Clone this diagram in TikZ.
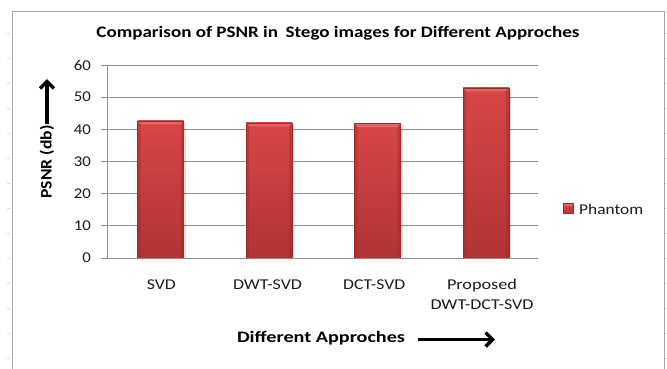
\documentclass[tikz,border=0pt]{standalone}
\usepackage{fontspec}
\setmainfont{Carlito}
\usetikzlibrary{arrows.meta}
\definecolor{gridc}{HTML}{8E8E8E}
\definecolor{framec}{HTML}{A8A8A8}
\definecolor{faintc}{HTML}{DDDDDD}
\definecolor{barTop}{HTML}{D94646}
\definecolor{barBot}{HTML}{B03434}
\definecolor{barEdge}{HTML}{A02A2A}
\definecolor{barL}{HTML}{E46464}
\definecolor{txt}{HTML}{1C1C1C}
\newcommand\fitw[2]{\setbox0=\hbox{#2}\pgfmathsetmacro\fitfac{#1/\the\wd0}\scalebox{\fitfac}[1]{\box0}}
\tikzset{
  ticklab/.style={anchor=east, inner sep=0pt, text=txt, font=\fontsize{15}{17}\selectfont},
  catlab/.style={inner sep=0pt, text=txt, font=\fontsize{15}{17}\selectfont},
  axtitle/.style={inner sep=0pt, text=black, font=\bfseries\fontsize{16}{18}\selectfont},
  gridline/.style={draw=gridc, line width=0.8pt},
  bigarrow/.style={line width=3.6pt, -{Straight Barb[length=7pt,width=14pt,line width=3.4pt]}},
}
\begin{document}
\begin{tikzpicture}[x=1pt,y=-1pt]
\useasboundingbox (0,0) rectangle (667,368);
\clip (0,0) rectangle (667,368);
\fill[white] (0,0) rectangle (667,368);
% outer frame and faint ruler ticks
\draw[framec, line width=0.9pt] (12,11) rectangle (664,400);
\foreach \yy in {33,58,...,358} {
  \draw[faintc, line width=0.6pt] (7,\yy) -- (11,\yy);
  \draw[faintc, line width=0.6pt] (665,\yy) -- (667,\yy);
}
% title
\node[inner sep=0pt, text=black, font=\bfseries\fontsize{16}{18}\selectfont] (title) at (338,33) {\fitw{483}{Comparison of PSNR in\, Stego images for Different Approches}};
% grid and ticks
\foreach \k in {0,...,6} {
  \pgfmathsetmacro\gy{258-32.1667*\k}
  \draw[gridline] (101,\gy) -- (538,\gy);
  \pgfmathtruncatemacro\lab{10*\k}
  \node[ticklab] (tick\k) at (91,\gy) {\fitw{\ifnum\lab=0 8.5\else 17\fi}{\lab}};
}
\draw[gridline] (107.5,65) -- (107.5,258);
% bars
\foreach \c/\v [count=\i] in {160.5/42.6, 269/42.0, 377.5/41.8, 486/52.9} {
  \pgfmathsetmacro\yt{258-\v*3.21667}
  \fill[black, opacity=0.12] (\c+23,\yt+2) rectangle (\c+25,258);
  \shade[top color=barTop, bottom color=barBot] (\c-23,258) rectangle (\c+23,\yt);
  \fill[barL] (\c-23,\yt) -- (\c+23,\yt) -- (\c+20,\yt+3.5) -- (\c-20,\yt+3.5) -- cycle;
  \fill[barEdge, opacity=0.45] (\c-23,\yt) -- (\c-20,\yt+3.5) -- (\c-20,258) -- (\c-23,258) -- cycle;
  \fill[barEdge, opacity=0.45] (\c+23,\yt) -- (\c+20,\yt+3.5) -- (\c+20,258) -- (\c+23,258) -- cycle;
  \draw[barEdge, line width=0.5pt] (\c-23,258) rectangle (\c+23,\yt);
  \coordinate (bar\i) at (\c,\yt);
}
\draw[gridline] (107.5,258) -- (538,258);
% category labels
\node[catlab] (c1) at (161.3,285) {\fitw{29}{SVD}};
\node[catlab] (c2) at (267.5,285) {\fitw{69}{DWT-SVD}};
\node[catlab] (c3) at (374.2,285) {\fitw{62}{DCT-SVD}};
\node[catlab] (c4a) at (482,285) {\fitw{70}{Proposed}};
\node[catlab] (c4b) at (482,305) {\fitw{103}{DWT-DCT-SVD}};
% legend
\shade[top color=barTop, bottom color=barBot] (563.5,203.5) rectangle (573.5,213.5);
\fill[barL] (563.5,203.5) rectangle (573.5,205.5);
\draw[barEdge, line width=0.4pt] (563.5,203.5) rectangle (573.5,213.5);
\node[catlab, anchor=west] (leg) at (579,209) {\fitw{64}{Phantom}};
% axis titles
\node[axtitle, rotate=90] (ylab) at (47,162) {\fitw{73}{PSNR (db)}};
\coordinate (ytip) at (47,79);
\draw[bigarrow] (ylab.east) ++(0,-1) -- (ytip);
\node[axtitle] (xlab) at (321,338) {\fitw{168}{Different Approches}};
\coordinate (xtip) at (495,339.5);
\draw[bigarrow] (418,339.5) -- (xtip);
\end{tikzpicture}
\end{document}
